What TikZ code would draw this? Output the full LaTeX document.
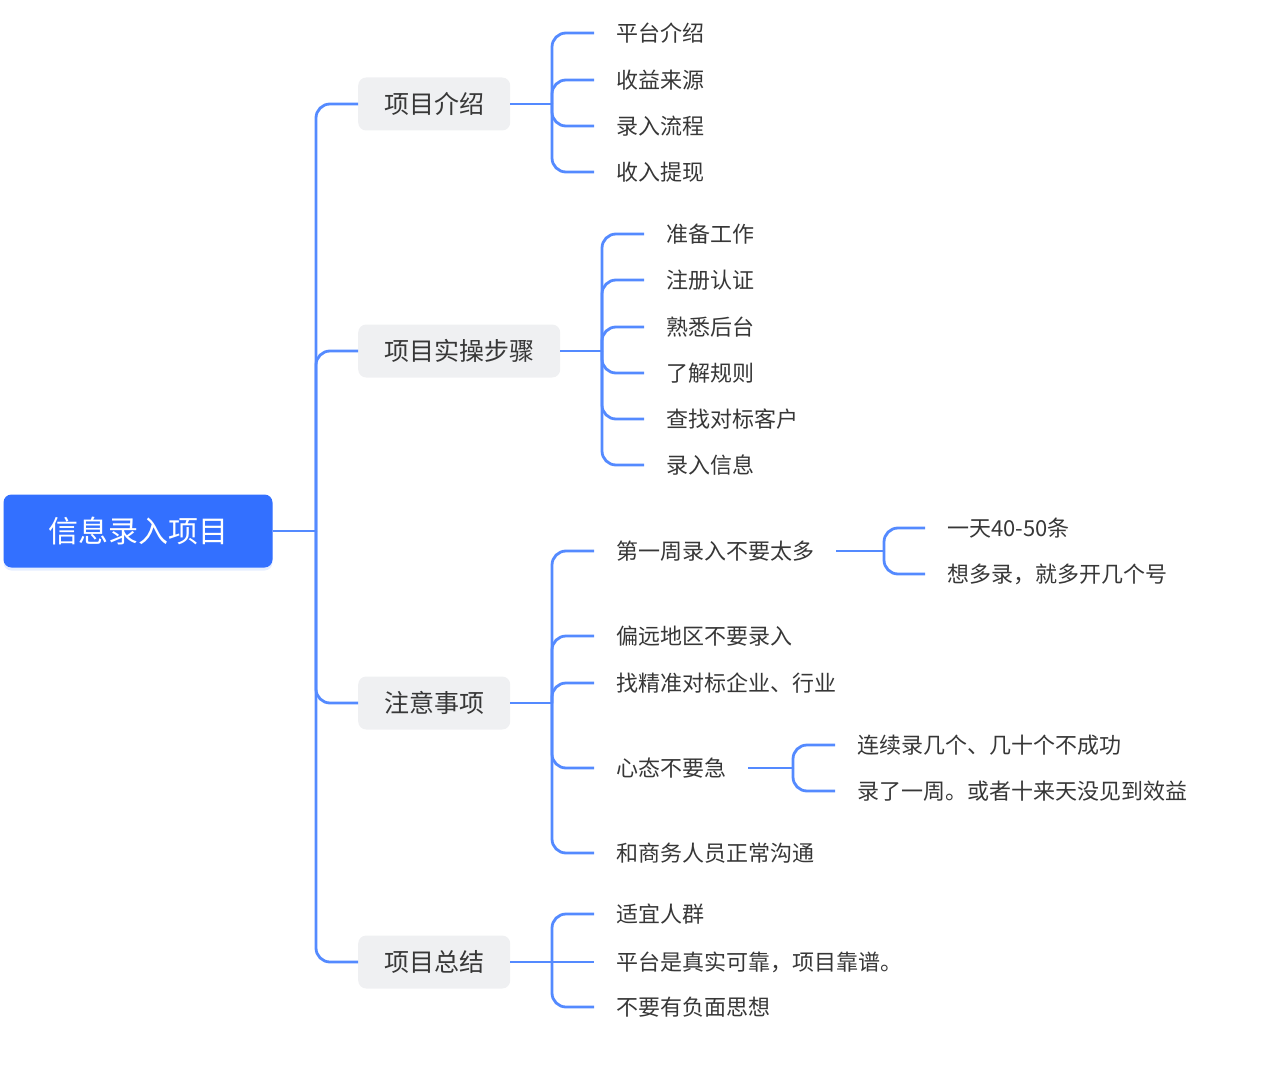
\documentclass[tikz,border=0pt]{standalone}
\usepackage{fontspec}
\setmainfont{Noto Sans CJK SC}
\usepackage{tikz}
\usetikzlibrary{shadows}
\definecolor{mapblue}{RGB}{51,112,255}
\definecolor{linkblue}{RGB}{84,138,255}
\definecolor{topicgray}{RGB}{239,240,242}
\definecolor{textgray}{RGB}{55,55,55}
\tikzset{
	basic/.style  = {inner ysep=0pt, text=textgray, font=\fontsize{22}{26}\selectfont},
	root/.style   = {basic, rounded corners=8pt, fill=mapblue, text=white,
		font=\fontsize{30}{34}\selectfont, minimum height=73pt, inner xsep=44.5pt,
		drop shadow={shadow xshift=0pt, shadow yshift=-3pt, fill=mapblue, opacity=0.12}},
	topic/.style  = {basic, rounded corners=8pt, fill=topicgray, anchor=west,
		font=\fontsize{25}{29}\selectfont, minimum height=53pt, inner xsep=26pt},
	leaf/.style   = {basic, anchor=west, inner xsep=22pt},
	link/.style   = {draw=linkblue, line width=2.8pt, rounded corners=14pt}
}

\begin{document}
\begin{tikzpicture}[x=1pt, y=-1pt]
\useasboundingbox (0,0) rectangle (1277,1070);

% central topic and the trunk
\node[root] (main) at (138,531) {信息录入项目};
\coordinate (hub) at (316,531);

% first level topics
\node[topic] (intro) at (358,104) {项目介绍};
\node[topic] (steps) at (358,351) {项目实操步骤};
\node[topic] (notes) at (358,703) {注意事项};
\node[topic] (summary) at (358,962) {项目总结};

\draw[link] (main.east) -- (hub);
\foreach \t in {intro,steps,notes,summary}
	\draw[link] (hub) |- (\t.west);

% 项目介绍
\coordinate (j1) at (552,104);
\node[leaf] (i1) at (594,33) {平台介绍};
\node[leaf] (i2) at (594,80) {收益来源};
\node[leaf] (i3) at (594,126) {录入流程};
\node[leaf] (i4) at (594,172) {收入提现};
\draw[link] (intro.east) -- (j1);
\foreach \c in {i1,i2,i3,i4}
	\draw[link] (j1) |- (\c.west);

% 项目实操步骤
\coordinate (j2) at (602,351);
\node[leaf] (s1) at (644,234) {准备工作};
\node[leaf] (s2) at (644,280) {注册认证};
\node[leaf] (s3) at (644,327) {熟悉后台};
\node[leaf] (s4) at (644,373) {了解规则};
\node[leaf] (s5) at (644,419) {查找对标客户};
\node[leaf] (s6) at (644,465) {录入信息};
\draw[link] (steps.east) -- (j2);
\foreach \c in {s1,s2,s3,s4,s5,s6}
	\draw[link] (j2) |- (\c.west);

% 注意事项
\coordinate (j3) at (552,703);
\node[leaf] (n1) at (594,551) {第一周录入不要太多};
\node[leaf] (n2) at (594,636) {偏远地区不要录入};
\node[leaf] (n3) at (594,683) {找精准对标企业、行业};
\node[leaf] (n4) at (594,768) {心态不要急};
\node[leaf] (n5) at (594,853) {和商务人员正常沟通};
\draw[link] (notes.east) -- (j3);
\foreach \c in {n1,n2,n3,n4,n5}
	\draw[link] (j3) |- (\c.west);

% third level under 第一周录入不要太多
\coordinate (j4) at (884,551);
\node[leaf] (w1) at (925,528) {一天40-50条};
\node[leaf] (w2) at (925,574) {想多录，就多开几个号};
\draw[link] (n1.east) -- (j4);
\foreach \c in {w1,w2}
	\draw[link] (j4) |- (\c.west);

% third level under 心态不要急
\coordinate (j5) at (793,768);
\node[leaf] (m1) at (835,745) {连续录几个、几十个不成功};
\node[leaf] (m2) at (835,791) {录了一周。或者十来天没见到效益};
\draw[link] (n4.east) -- (j5);
\foreach \c in {m1,m2}
	\draw[link] (j5) |- (\c.west);

% 项目总结
\coordinate (j6) at (552,962);
\node[leaf] (t1) at (594,914) {适宜人群};
\node[leaf] (t2) at (594,962) {平台是真实可靠，项目靠谱。};
\node[leaf] (t3) at (594,1007) {不要有负面思想};
\draw[link] (summary.east) -- (t2.west);
\foreach \c in {t1,t3}
	\draw[link] (j6) |- (\c.west);

\end{tikzpicture}
\end{document}
